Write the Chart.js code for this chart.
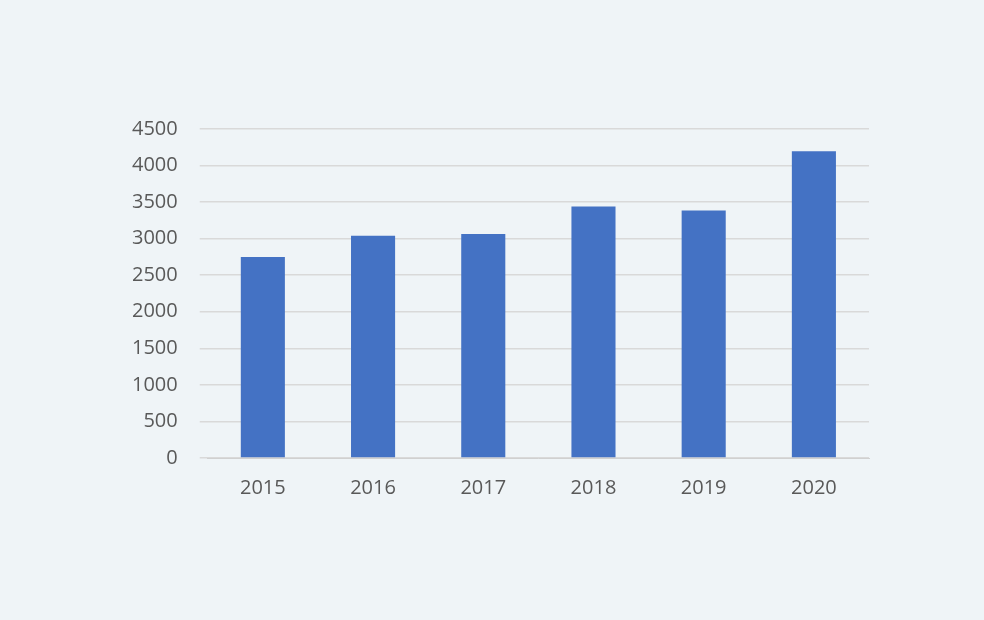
<!DOCTYPE html>
<html><head><meta charset="utf-8">
<script src="https://cdn.jsdelivr.net/npm/chart.js@4"></script>
<style>
html,body{margin:0;padding:0;background:#eff4f7;}
#wrap{position:absolute;left:0;top:0;width:984px;height:620px;}
</style></head>
<body><div id="wrap"><canvas id="c" width="984" height="620"></canvas></div>
<script>
const categories = ["2015","2016","2017","2018","2019","2020"];
const values = [2750, 3040, 3065, 3440, 3385, 4195];
const yTicks = [0,500,1000,1500,2000,2500,3000,3500,4000,4500];

new Chart(document.getElementById('c'), {
  type: 'bar',
  data: { labels: categories, datasets: [{ data: values, backgroundColor: '#4472C4', barPercentage: 0.8, categoryPercentage: 0.5 }] },
  options: {
    responsive: false, animation: false,
    layout: { padding: { left: 110, right: 115, top: 129, bottom: 110 } },
    plugins: { legend: { display: false }, tooltip: { enabled: false } },
    scales: {
      x: {
        grid: { display: false },
        border: { color: '#d0d0d0' },
        ticks: { color: '#595959', font: { family: 'Open Sans', size: 20 }, padding: 10 }
      },
      y: {
        min: 0, max: 4500,
        afterBuildTicks: (s) => { s.ticks = yTicks.map(v => ({ value: v })); },
        grid: { color: '#d9d9d9', lineWidth: 1.5 },
        border: { display: false },
        ticks: { color: '#595959', font: { family: 'Open Sans', size: 20 }, padding: 22, callback: (v) => String(v) }
      }
    }
  }
});
</script></body></html>
